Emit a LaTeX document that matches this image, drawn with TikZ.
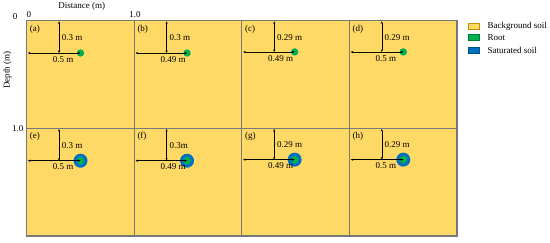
\documentclass[tikz,border=0pt]{standalone}
\usepackage{fontspec}
\setmainfont{Liberation Serif}
\usetikzlibrary{arrows.meta}
\definecolor{soil}{RGB}{255,217,102}
\definecolor{rootc}{RGB}{0,176,80}
\definecolor{satc}{RGB}{0,112,192}
\definecolor{gridc}{RGB}{120,120,120}
\definecolor{soilb}{RGB}{191,144,0}
\begin{document}
\begin{tikzpicture}[x=1pt,y=-1pt,
  font=\fontsize{9}{10}\selectfont,
  dimline/.style={{Stealth[length=2.6pt,width=2.2pt]}-{Stealth[length=2.6pt,width=2.2pt]},line width=0.5pt,black},
  gridline/.style={draw=gridc,line width=0.9pt},
  rootdot/.style={circle,fill=rootc,inner sep=0pt,minimum size=7.4pt},
  satdot/.style={circle,fill=satc,inner sep=0pt,minimum size=14pt},
  rootin/.style={circle,fill=rootc,inner sep=0pt,minimum size=7.6pt},
  lbl/.style={inner sep=0pt},
  legbox/.style={minimum width=11pt,minimum height=5.8pt,inner sep=0pt,line width=0.5pt}]
\useasboundingbox (0,0) rectangle (550,242);
% soil
\fill[soil] (26.7,20.7) rectangle (457,236);
% grid
\foreach \i in {1,2,3}{\draw[gridline] (26.7+\i*107.6,20.7) -- (26.7+\i*107.6,236);}
\draw[gridline] (26.7,128.4) -- (457,128.4);
\draw[draw=gridc,line width=1.2pt] (26.7,20.7) rectangle (457,236);
% axes labels
\node[lbl] (xlab) at (81.7,6.5) {Distance (m)};
\node[lbl] (x0) at (28.9,14.3) {0};
\node[lbl] (x1) at (135,14.3) {1.0};
\node[lbl,rotate=90] (ylab) at (7.5,70) {Depth (m)};
\node[lbl] (y0) at (15,16.5) {0};
\node[lbl] (y1) at (17.8,128.7) {1.0};
% panels
\foreach \lab/\c/\r/\dy/\dx/\ty/\tx/\sat in {
  a/0/0/0.3/0.5/0.3 m/0.5 m/0,
  b/1/0/0.3/0.49/0.3 m/0.49 m/0,
  c/2/0/0.29/0.49/0.29 m/0.49 m/0,
  d/3/0/0.29/0.5/0.29 m/0.5 m/0,
  e/0/1/0.3/0.5/0.3 m/0.5 m/1,
  f/1/1/0.3/0.49/0.3m/0.49 m/1,
  g/2/1/0.29/0.49/0.29 m/0.49 m/1,
  h/3/1/0.29/0.5/0.29 m/0.5 m/1}{
  \pgfmathsetmacro\px{26.7+\c*107.6}
  \pgfmathsetmacro\py{20.7+\r*107.7}
  \pgfmathsetmacro\ly{\py+\dy*107.7}
  \pgfmathsetmacro\rx{\px+\dx*107.6}
  \coordinate (top\lab) at (\px+32.3,\py+0.6);
  \coordinate (cor\lab) at (\px+32.3,\ly);
  \coordinate (left\lab) at (\px+1.2,\ly);
  \ifnum\sat=1
    \node[satdot] (sat\lab) at (\rx,\ly) {};
    \node[rootin] (root\lab) at (\rx,\ly) {};
  \else
    \node[rootdot] (root\lab) at (\rx,\ly) {};
  \fi
  \draw[dimline] (top\lab) -- (cor\lab);
  \draw[dimline] (left\lab) -- (root\lab.center);
  \node[lbl,anchor=north west] (name\lab) at (\px+3,\py+4) {(\lab)};
  \node[lbl,anchor=west] (vt\lab) at (\px+35,\py+\dy*53.85+1) {\ty};
  \node[lbl,anchor=north west] (ht\lab) at (\px+26,\ly+3) {\tx};
}
% legend
\node[legbox,fill=soil,draw=soilb] (lb1) at (473.8,26.2) {};
\node[legbox,fill=rootc,draw=rootc!70!black] (lb2) at (473.8,37.2) {};
\node[legbox,fill=satc,draw=satc!70!black] (lb3) at (473.8,50) {};
\node[lbl,anchor=west] (lt1) at (487.5,26.2) {Background soil};
\node[lbl,anchor=west] (lt2) at (487.5,37.2) {Root};
\node[lbl,anchor=west] (lt3) at (487.5,50) {Saturated soil};
\end{tikzpicture}
\end{document}
